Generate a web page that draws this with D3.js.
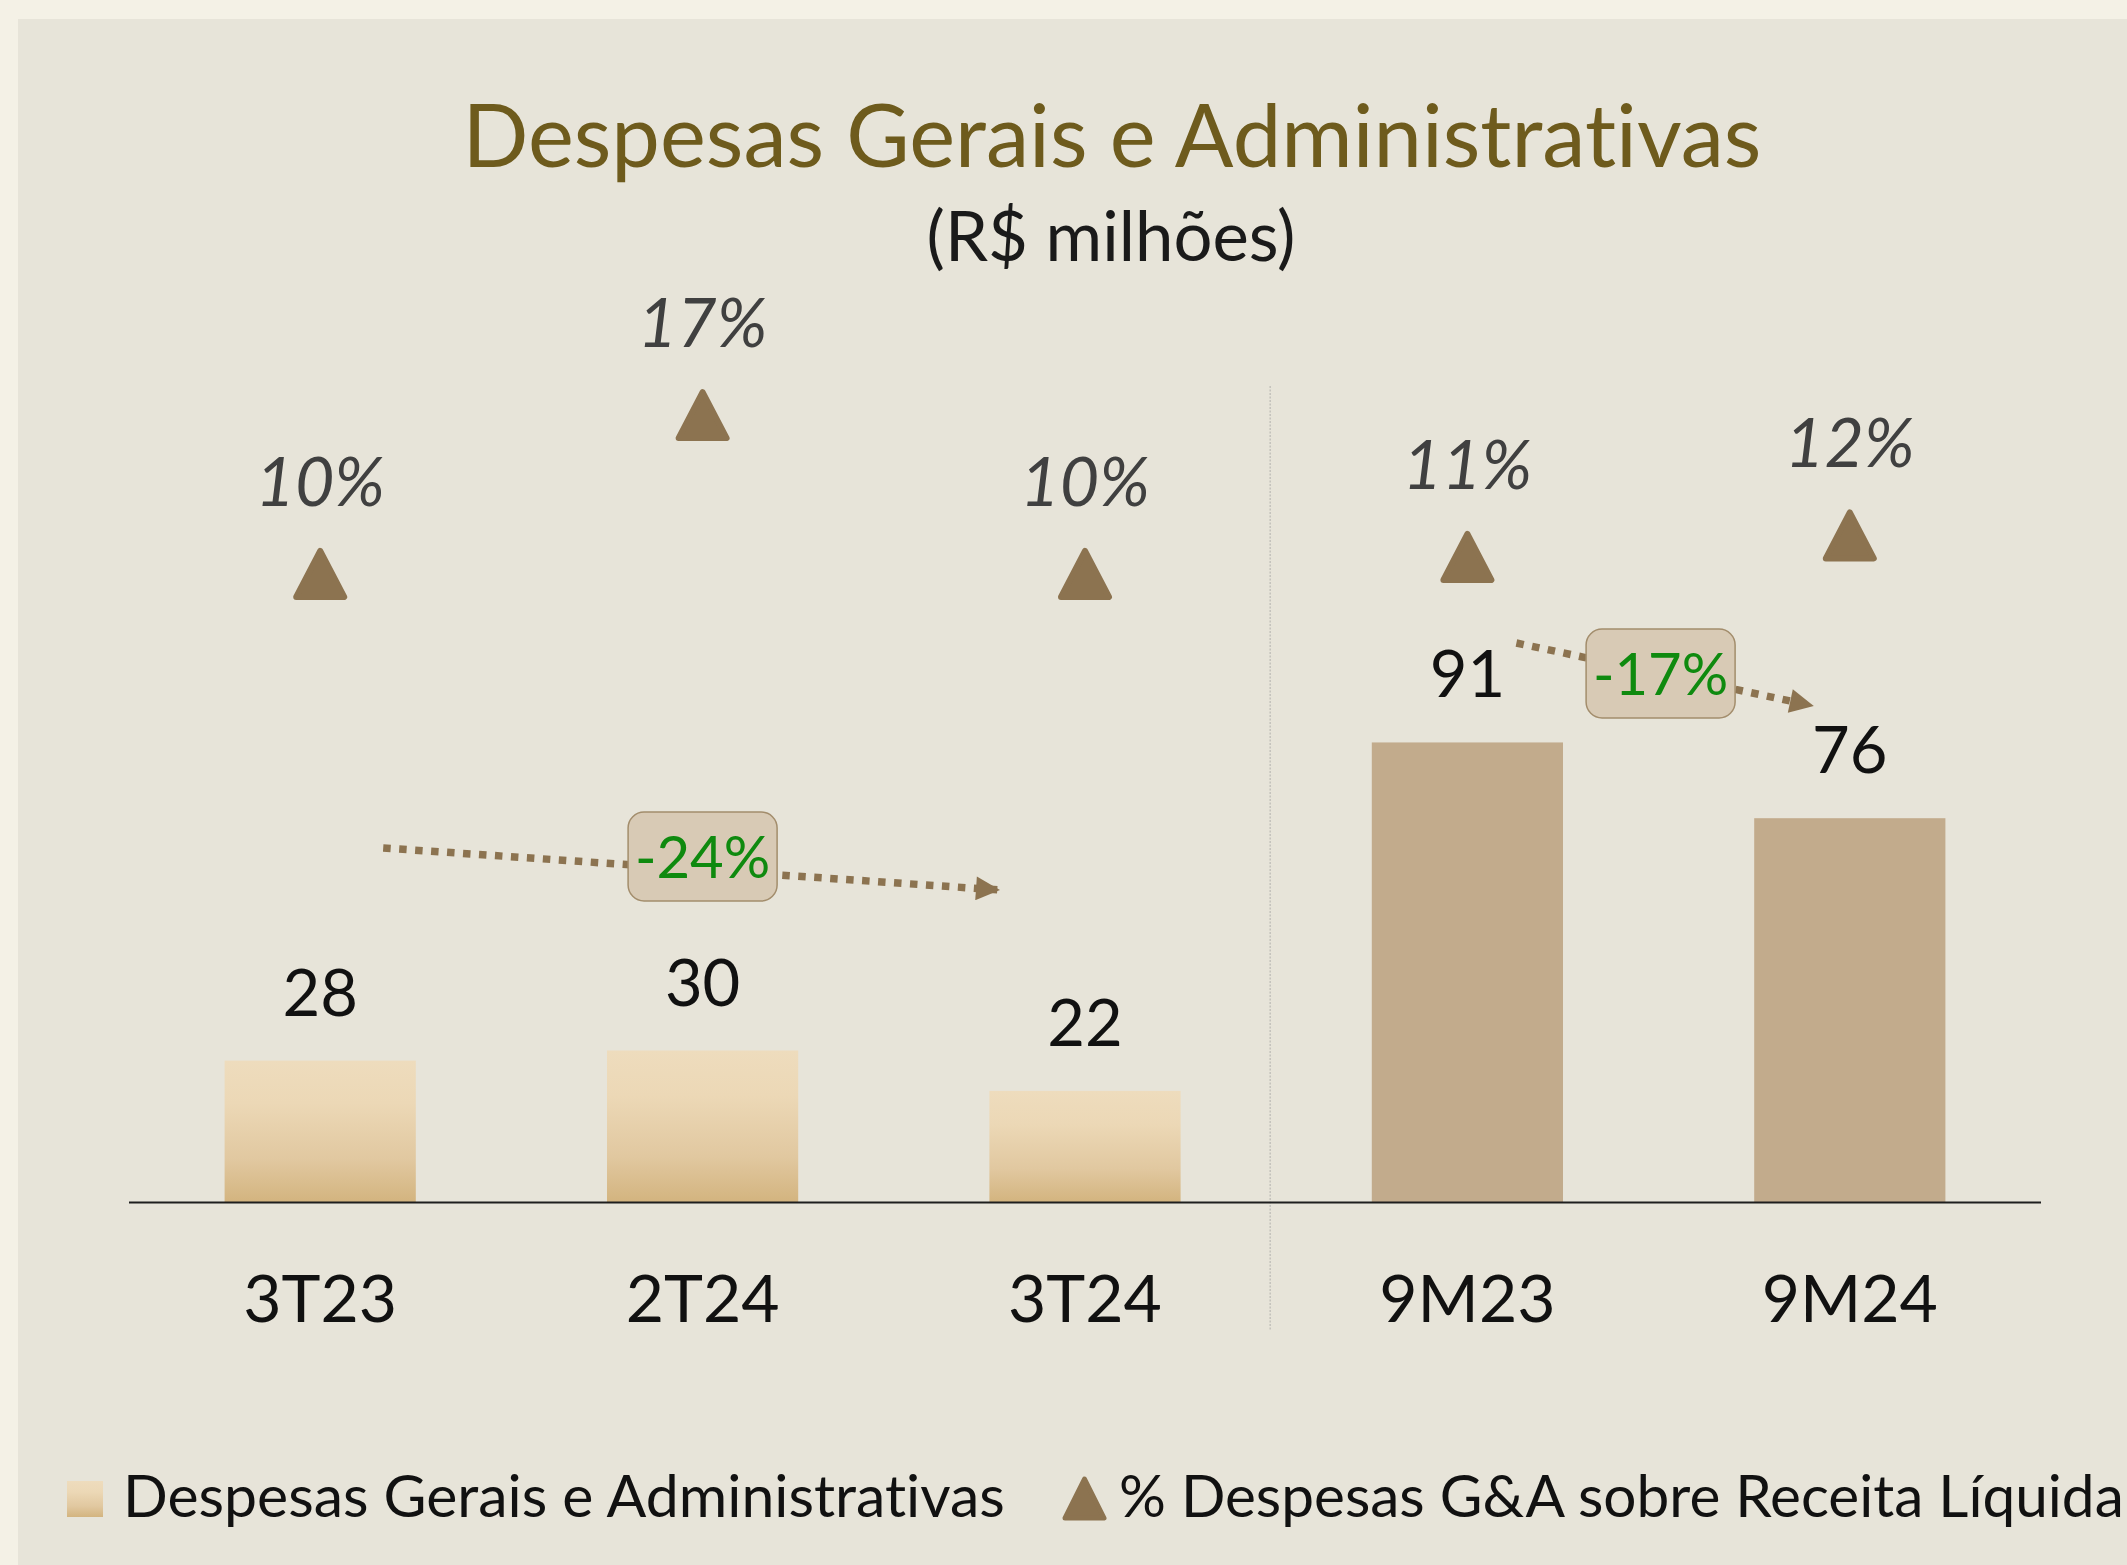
<!DOCTYPE html>
<html>
<head>
<meta charset="utf-8">
<script src="https://cdn.jsdelivr.net/npm/d3@7"></script>
<style>
  html, body { margin: 0; padding: 0; background: #f4f1e6; }
  svg { display: block; }
  text { font-family: Lato, "Open Sans", sans-serif; font-variant-ligatures: none; font-feature-settings: "liga" 0, "clig" 0, "dlig" 0; }
</style>
</head>
<body>
<script>
// ---- data ----
const categories = ["3T23", "2T24", "3T24", "9M23", "9M24"];
const expenseValues = [28, 30, 22, 91, 76];          // R$ milhões
const pctValues = [10.0, 17.0, 10.0, 10.75, 11.7];   // % G&A sobre Receita Líquida (position)
const pctLabels = ["10%", "17%", "10%", "11%", "12%"];
const changeLabels = ["-24%", "-17%"];
const legendLabels = ["Despesas Gerais e Administrativas", "% Despesas G&A sobre Receita Líquida"];
const titleText = "Despesas Gerais e Administrativas";
const subtitleText = "(R$ milhões)";

const W = 2127, H = 1565;
const svg = d3.select("body").append("svg").attr("width", W).attr("height", H);

const defs = svg.append("defs");
const grad = defs.append("linearGradient").attr("id", "barGrad")
  .attr("x1", 0).attr("y1", 0).attr("x2", 0).attr("y2", 1);
grad.append("stop").attr("offset", "0%").attr("stop-color", "#eedcbd");
grad.append("stop").attr("offset", "30%").attr("stop-color", "#ecd8b6");
grad.append("stop").attr("offset", "70%").attr("stop-color", "#e1c8a0");
grad.append("stop").attr("offset", "100%").attr("stop-color", "#d3b47f");

// panel
svg.append("rect").attr("x", 0).attr("y", 0).attr("width", W).attr("height", H).attr("fill", "#f4f1e6");
svg.append("rect").attr("x", 18).attr("y", 19).attr("width", W - 18).attr("height", H - 19).attr("fill", "#e7e4d9");

// scales
const x = d3.scaleBand().domain(categories).range([129, 2041]).paddingInner(0.5).paddingOuter(0.25);
const y = d3.scaleLinear().domain([0, 100]).range([1202, 697]);
const yPct = d3.scaleLinear().domain([0, 20]).range([801, 347]);
const bw = x.bandwidth();
const cx = c => x(c) + bw / 2;

function fitText(sel, target) {
  const node = sel.node();
  sel.attr("font-size", 100);
  const w = node.getComputedTextLength();
  sel.attr("font-size", 100 * target / w);
}

// title
const title = svg.append("text").attr("x", 1112).attr("y", 167).attr("text-anchor", "middle")
  .attr("fill", "#6e5b1d").text(titleText);
fitText(title, 1299);
const sub = svg.append("text").attr("x", 1111).attr("y", 261).attr("text-anchor", "middle")
  .attr("fill", "#1a1a1a").text(subtitleText);
fitText(sub, 369);

// divider
const divX = (cx("3T24") + cx("9M23")) / 2 - 6;
svg.append("line").attr("x1", divX).attr("x2", divX).attr("y1", 386).attr("y2", 1330)
  .attr("stroke", "#c4c2bb").attr("stroke-width", 1.5).attr("stroke-dasharray", "2 1.5");

// bars
svg.selectAll("rect.bar").data(categories).join("rect").attr("class", "bar")
  .attr("x", d => x(d)).attr("width", bw)
  .attr("y", (d, i) => y(expenseValues[i]))
  .attr("height", (d, i) => y(0) - y(expenseValues[i]))
  .attr("fill", (d, i) => i < 3 ? "url(#barGrad)" : "#c2ab8c");

// axis baseline
svg.append("line").attr("x1", 129).attr("x2", 2041).attr("y1", y(0) + 0.5).attr("y2", y(0) + 0.5)
  .attr("stroke", "#1e1e1e").attr("stroke-width", 2);

// category labels
svg.selectAll("text.cat").data(categories).join("text").attr("class", "cat")
  .attr("x", d => cx(d)).attr("y", 1322).attr("text-anchor", "middle")
  .attr("font-size", 66).attr("fill", "#111").text(d => d);

// value labels
svg.selectAll("text.val").data(categories).join("text").attr("class", "val")
  .attr("x", d => cx(d)).attr("y", (d, i) => y(expenseValues[i]) - 45).attr("text-anchor", "middle")
  .attr("font-size", 65).attr("fill", "#111").text((d, i) => expenseValues[i]);

// triangles
function triPath(c, yc) {
  const w = 48, h = 46;
  return `M${c},${yc - h / 2} L${c + w / 2},${yc + h / 2} L${c - w / 2},${yc + h / 2} Z`;
}
const triColor = "#8c7350";
svg.selectAll("path.tri").data(categories).join("path").attr("class", "tri")
  .attr("d", (d, i) => triPath(cx(d), yPct(pctValues[i])))
  .attr("fill", triColor).attr("stroke", triColor).attr("stroke-width", 6).attr("stroke-linejoin", "round");

svg.selectAll("text.pct").data(categories).join("text").attr("class", "pct")
  .attr("x", d => cx(d)).attr("y", (d, i) => yPct(pctValues[i]) - 68).attr("text-anchor", "middle")
  .attr("font-size", 68).attr("font-style", "italic").attr("fill", "#404040").text((d, i) => pctLabels[i]);

// change arrows
defs.append("marker").attr("id", "arrowHead").attr("viewBox", "0 0 10 10")
  .attr("refX", 10).attr("refY", 5).attr("markerWidth", 30).attr("markerHeight", 24)
  .attr("markerUnits", "userSpaceOnUse").attr("orient", "auto")
  .append("path").attr("d", "M0,0 L10,5 L0,10 Z").attr("fill", triColor);

const arrows = [
  { x1: cx("3T23") + 63, y1: 848, x2: cx("3T24") - 81, y2: 891, bx: cx("2T24"), by: 856.5, label: changeLabels[0] },
  { x1: cx("9M23") + 49, y1: 643, x2: cx("9M24") - 32, y2: 707, bx: (cx("9M23") + cx("9M24")) / 2 + 2, by: 673.5, label: changeLabels[1] }
];
arrows.forEach(a => {
  svg.append("line").attr("x1", a.x1).attr("y1", a.y1).attr("x2", a.x2 - 4).attr("y2", a.y2 - 1)
    .attr("stroke", triColor).attr("stroke-width", 7.5).attr("stroke-dasharray", "7.5 8.5")
    .attr("marker-end", "url(#arrowHead)");
  svg.append("rect").attr("x", a.bx - 74.5).attr("y", a.by - 44.5).attr("width", 149).attr("height", 89)
    .attr("rx", 16).attr("ry", 16).attr("fill", "#d8cab5").attr("stroke", "#a38d6c").attr("stroke-width", 1.5);
  svg.append("text").attr("x", a.bx).attr("y", a.by + 21).attr("text-anchor", "middle")
    .attr("font-size", 58).attr("fill", "#0f8a0f").text(a.label);
});

// legend
const lg1 = svg.append("g");
lg1.append("rect").attr("x", 67).attr("y", 1481).attr("width", 36).attr("height", 36).attr("fill", "url(#barGrad)");
const lt1 = lg1.append("text").attr("x", 123).attr("y", 1517).attr("fill", "#111").text(legendLabels[0]);
fitText(lt1, 882);
svg.append("path").attr("d", `M1084.5,1479 L1104,1518 L1065,1518 Z`)
  .attr("fill", triColor).attr("stroke", triColor).attr("stroke-width", 5).attr("stroke-linejoin", "round");
const lt2 = svg.append("text").attr("x", 1119).attr("y", 1517).attr("fill", "#111").text(legendLabels[1]);
fitText(lt2, 1005);
</script>
</body>
</html>
